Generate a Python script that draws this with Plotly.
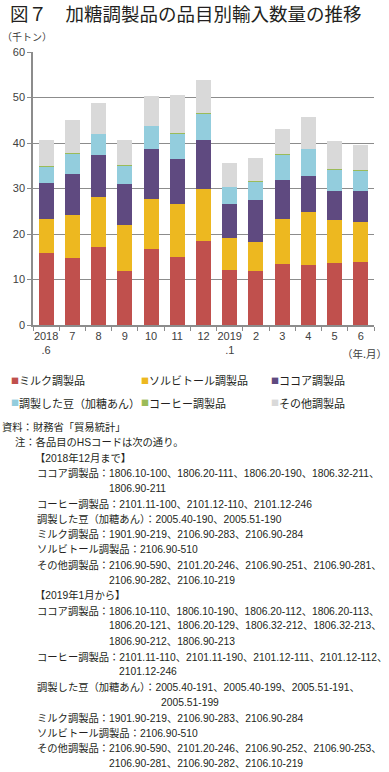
import plotly.graph_objects as go

categories = ["2018<br>.6", "7", "8", "9", "10", "11", "12", "2019<br>.1", "2", "3", "4", "5", "6"]
milk = [15.8, 14.7, 17.1, 11.9, 16.6, 14.9, 18.5, 12.0, 11.8, 13.4, 13.1, 13.6, 13.9]
sorbitol = [7.5, 9.5, 11.1, 10.0, 11.2, 11.7, 11.5, 7.1, 6.5, 9.9, 11.8, 9.5, 8.7]
cocoa = [8.0, 8.9, 9.1, 9.0, 10.8, 9.8, 10.7, 7.5, 9.1, 8.6, 7.9, 6.3, 6.9]
beans = [3.6, 4.6, 4.7, 4.2, 5.2, 5.7, 5.8, 3.8, 4.2, 5.6, 5.9, 4.8, 4.5]
coffee = [0.01, 0.01, 0.01, 0.01, 0.01, 0.01, 0.01, 0.01, 0.01, 0.01, 0.01, 0.01, 0.01]
other = [5.8, 7.4, 6.8, 5.6, 6.6, 8.5, 7.4, 5.2, 5.1, 5.6, 7.0, 6.3, 5.6]

series_names = ["ミルク調製品", "ソルビトール調製品", "ココア調製品", "調製した豆（加糖あん）", "コーヒー調製品", "その他調製品"]
series_values = [milk, sorbitol, cocoa, beans, coffee, other]
series_colors = ["#C0504D", "#EDB820", "#5F4A80", "#93CDDD", "#9BBB59", "#D9D9D9"]

notes = [
    ("src", "資料：財務省「貿易統計」"),
    ("note", "注：各品目のHSコードは次の通り。"),
    ("head", "【2018年12月まで】"),
    ("item", "ココア調製品：1806.10-100、1806.20-111、1806.20-190、1806.32-211、"),
    ("ココア調製品：", "1806.90-211"),
    ("item", "コーヒー調製品：2101.11-100、2101.12-110、2101.12-246"),
    ("item", "調製した豆（加糖あん）：2005.40-190、2005.51-190"),
    ("item", "ミルク調製品：1901.90-219、2106.90-283、2106.90-284"),
    ("item", "ソルビトール調製品：2106.90-510"),
    ("item", "その他調製品：2106.90-590、2101.20-246、2106.90-251、2106.90-281、"),
    ("その他調製品：", "2106.90-282、2106.10-219"),
    ("head", "【2019年1月から】"),
    ("item", "ココア調製品：1806.10-110、1806.10-190、1806.20-112、1806.20-113、"),
    ("ココア調製品：", "1806.20-121、1806.20-129、1806.32-212、1806.32-213、"),
    ("ココア調製品：", "1806.90-212、1806.90-213"),
    ("item", "コーヒー調製品：2101.11-110、2101.11-190、2101.12-111、2101.12-112、"),
    ("コーヒー調製品：", "2101.12-246"),
    ("item", "調製した豆（加糖あん）：2005.40-191、2005.40-199、2005.51-191、"),
    ("調製した豆（加糖あん）：", "2005.51-199"),
    ("item", "ミルク調製品：1901.90-219、2106.90-283、2106.90-284"),
    ("item", "ソルビトール調製品：2106.90-510"),
    ("item", "その他調製品：2106.90-590、2101.20-246、2106.90-252、2106.90-253、"),
    ("その他調製品：", "2106.90-281、2106.90-282、2106.10-219"),
]

W, H = 389, 772
ML, MR, MT, MB = 33, 15, 52, 447
PW = W - ML - MR
PH = H - MT - MB
FONT = "Noto Sans CJK JP"
NUMFONT = "Liberation Sans, Noto Sans CJK JP"
NOTE_SIZE = 10.3


def px2x(px):
    return (px - ML) / PW


def px2y(py):
    return (H - MB - py) / PH


fig = go.Figure()
for name, vals, col in zip(series_names, series_values, series_colors):
    fig.add_trace(go.Bar(x=categories, y=vals, name=name, showlegend=False,
                         marker=dict(color=col, line=dict(width=0))))

annotations = [
    dict(x=px2x(8), y=px2y(13), text="図７　加糖調製品の品目別輸入数量の推移", xanchor="left", yanchor="middle",
         font=dict(size=18.5, color="#231F20", family=FONT)),
    dict(x=px2x(0), y=px2y(37), text="（千トン）", xanchor="left", yanchor="middle",
         font=dict(size=10, color="#404040", family=FONT)),
    dict(x=px2x(389), y=px2y(353), text="（年.月）", xanchor="right", yanchor="middle",
         font=dict(size=10.5, color="#404040", family=FONT)),
]

# legend entries (3 columns x 2 rows), built from the series lists
leg_cols = [9, 139, 269]
leg_rows = [380, 403]
for k, (name, col) in enumerate(zip(series_names, series_colors)):
    cx = leg_cols[k % 3]
    cy = leg_rows[k // 3]
    annotations.append(dict(x=px2x(cx), y=px2y(cy), text="■", xanchor="left", yanchor="middle",
                            font=dict(size=8, color=col, family=FONT)))
    annotations.append(dict(x=px2x(cx + 8), y=px2y(cy), text=name, xanchor="left", yanchor="middle",
                            font=dict(size=11, color="#231F20", family=FONT)))

indent = {"src": 0, "note": 13, "head": 33, "item": 35}
for i, (kind, txt) in enumerate(notes):
    if kind in indent:
        xp = indent[kind]
    else:
        xp = indent["item"] + len(kind) * NOTE_SIZE
    annotations.append(dict(x=px2x(xp), y=px2y(427 + 15.3 * i), text=txt, xanchor="left", yanchor="middle",
                            font=dict(size=NOTE_SIZE, color="#231F20", family=NUMFONT)))
for a in annotations:
    a.update(xref="paper", yref="paper", showarrow=False)

fig.update_layout(
    width=W, height=H,
    margin=dict(l=ML, r=MR, t=MT, b=MB),
    barmode="stack", bargap=0.43,
    plot_bgcolor="white", paper_bgcolor="white",
    font=dict(family=NUMFONT, color="#404040"),
    showlegend=False,
    annotations=annotations,
)
fig.update_yaxes(range=[0, 60], dtick=10, showgrid=True, gridcolor="#8C8C8C", gridwidth=1,
                 showline=True, linecolor="#8C8C8C", linewidth=1.5, ticks="outside", ticklen=4,
                 tickcolor="#8C8C8C", tickfont=dict(size=11, color="#404040"), zeroline=False)
fig.update_xaxes(type="category", showline=True, linecolor="#8C8C8C", linewidth=1.5, ticks="outside",
                 tickson="boundaries", ticklen=4, tickcolor="#8C8C8C", tickangle=0,
                 tickfont=dict(size=11, color="#404040"))

fig.write_html("out.html")
